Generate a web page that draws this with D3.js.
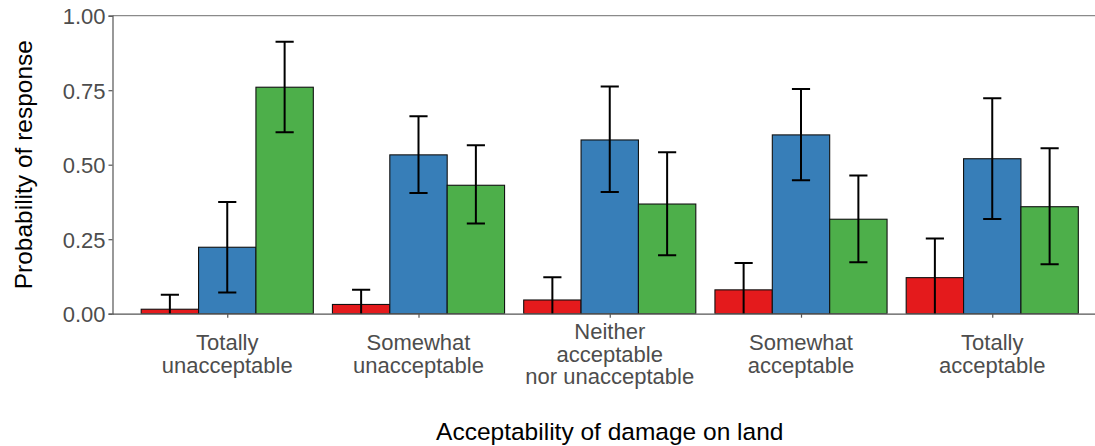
<!DOCTYPE html>
<html><head><meta charset="utf-8">
<script src="https://cdn.jsdelivr.net/npm/d3@7"></script>
<style>body{margin:0;background:#fff}svg{display:block;font-family:"Liberation Sans",Arial,sans-serif}</style>
</head><body><svg id="c" width="1095" height="446"></svg>
<script>
const categories = ["Totally\nunacceptable","Somewhat\nunacceptable","Neither\nacceptable\nnor unacceptable","Somewhat\nacceptable","Totally\nacceptable"];
const series = ["low","mid","high"];
const colors = ["#E41A1C","#377EB8","#4DAF4A"];
const valuesLow  = [0.015, 0.031, 0.046, 0.080, 0.121];
const lowerLow   = [-0.03, -0.03, -0.03, -0.03, -0.03];
const upperLow   = [0.064, 0.080, 0.122, 0.170, 0.252];
const valuesMid  = [0.223, 0.533, 0.583, 0.600, 0.520];
const lowerMid   = [0.071, 0.405, 0.408, 0.448, 0.318];
const upperMid   = [0.375, 0.663, 0.762, 0.754, 0.723];
const valuesHigh = [0.760, 0.431, 0.368, 0.317, 0.359];
const lowerHigh  = [0.609, 0.303, 0.196, 0.173, 0.166];
const upperHigh  = [0.913, 0.565, 0.542, 0.464, 0.555];
const yTicks = [0, 0.25, 0.5, 0.75, 1];
const yTickLabels = ["0.00","0.25","0.50","0.75","1.00"];
const xTitle = "Acceptability of damage on land";
const yTitle = "Probability of response";

(function(){
const vals = [valuesLow, valuesMid, valuesHigh];
const lows = [lowerLow, lowerMid, lowerHigh];
const ups = [upperLow, upperMid, upperHigh];

const svg = d3.select("#c");
const pLeft = 112.5, pTop = 15.7, pBottom = 313.7, pRight = 1107;
const x = d3.scaleLinear().domain([0.4, 5.6]).range([pLeft, pRight]);
const y = d3.scaleLinear().domain([0, 1]).range([pBottom, pTop]);
const barW = 0.3;

svg.append("defs").append("clipPath").attr("id","clip")
  .append("rect").attr("x", pLeft).attr("y", pTop).attr("width", 1095-pLeft).attr("height", pBottom-pTop);

const data = [];
categories.forEach((c, i) => series.forEach((s, j) => {
  data.push({i, j, v: vals[j][i], lo: lows[j][i], hi: ups[j][i]});
}));
const cx = d => (d.i + 1) - 0.45 + barW * d.j + barW / 2;

const g = svg.append("g").attr("clip-path","url(#clip)");
g.selectAll("rect.bar").data(data).enter().append("rect")
  .attr("x", d => x(cx(d) - barW/2))
  .attr("width", d => x(cx(d) + barW/2) - x(cx(d) - barW/2))
  .attr("y", d => y(d.v))
  .attr("height", d => y(0) - y(d.v))
  .attr("fill", d => colors[d.j])
  .attr("stroke", "#111").attr("stroke-width", 1.1);

const capHalf = 0.0475;
const eb = g.selectAll("g.eb").data(data).enter().append("g");
eb.append("line").attr("x1", d => x(cx(d))).attr("x2", d => x(cx(d)))
  .attr("y1", d => y(d.lo)).attr("y2", d => y(d.hi));
eb.append("line").attr("x1", d => x(cx(d)-capHalf)).attr("x2", d => x(cx(d)+capHalf))
  .attr("y1", d => y(d.hi)).attr("y2", d => y(d.hi));
eb.append("line").attr("x1", d => x(cx(d)-capHalf)).attr("x2", d => x(cx(d)+capHalf))
  .attr("y1", d => y(d.lo)).attr("y2", d => y(d.lo));
eb.selectAll("line").attr("stroke","#000").attr("stroke-width",2);

svg.append("line").attr("x1", pLeft).attr("x2", 1095).attr("y1", y(1)).attr("y2", y(1))
  .attr("stroke","#8a8a8a").attr("stroke-width",1.2);

const yAxis = d3.axisLeft(y).tickValues(yTicks).tickFormat((d,i) => yTickLabels[i]).tickSize(4).tickPadding(3);
const ya = svg.append("g").attr("transform", `translate(${pLeft},0)`).call(yAxis);
ya.select(".domain").attr("stroke","#555").attr("stroke-width",1.2);
ya.selectAll(".tick line").attr("stroke","#555").attr("stroke-width",1.2);
ya.selectAll(".tick text").attr("fill","#4d4d4d").style("font-size","22px")
  .style("font-family","'Liberation Sans',Arial,sans-serif").attr("dy","0.36em");

const xAxis = d3.axisBottom(x).tickValues([1,2,3,4,5]).tickFormat("").tickSize(4).tickSizeOuter(0);
const xa = svg.append("g").attr("transform", `translate(0,${pBottom})`).call(xAxis);
xa.select(".domain").attr("stroke","#555").attr("stroke-width",1.2);
xa.selectAll(".tick line").attr("stroke","#555").attr("stroke-width",1.2);

const lineH = 22.5, midBase = 361.5;
categories.forEach((c, i) => {
  const lines = c.split("\n");
  const t = svg.append("text").attr("text-anchor","middle").attr("fill","#4d4d4d")
    .style("font-size","22px");
  lines.forEach((l, k) => {
    t.append("tspan").attr("x", x(i+1)).attr("y", midBase + (k - (lines.length-1)/2) * lineH).text(l);
  });
});

svg.append("text").attr("x", (pLeft + pRight)/2).attr("y", 440).attr("text-anchor","middle")
  .attr("fill","#000").style("font-size","24.5px").text(xTitle);
svg.append("text").attr("transform", `translate(31.5,${(pTop+pBottom)/2}) rotate(-90)`)
  .attr("text-anchor","middle").attr("fill","#000").style("font-size","24.5px").text(yTitle);
})();
</script></body></html>
